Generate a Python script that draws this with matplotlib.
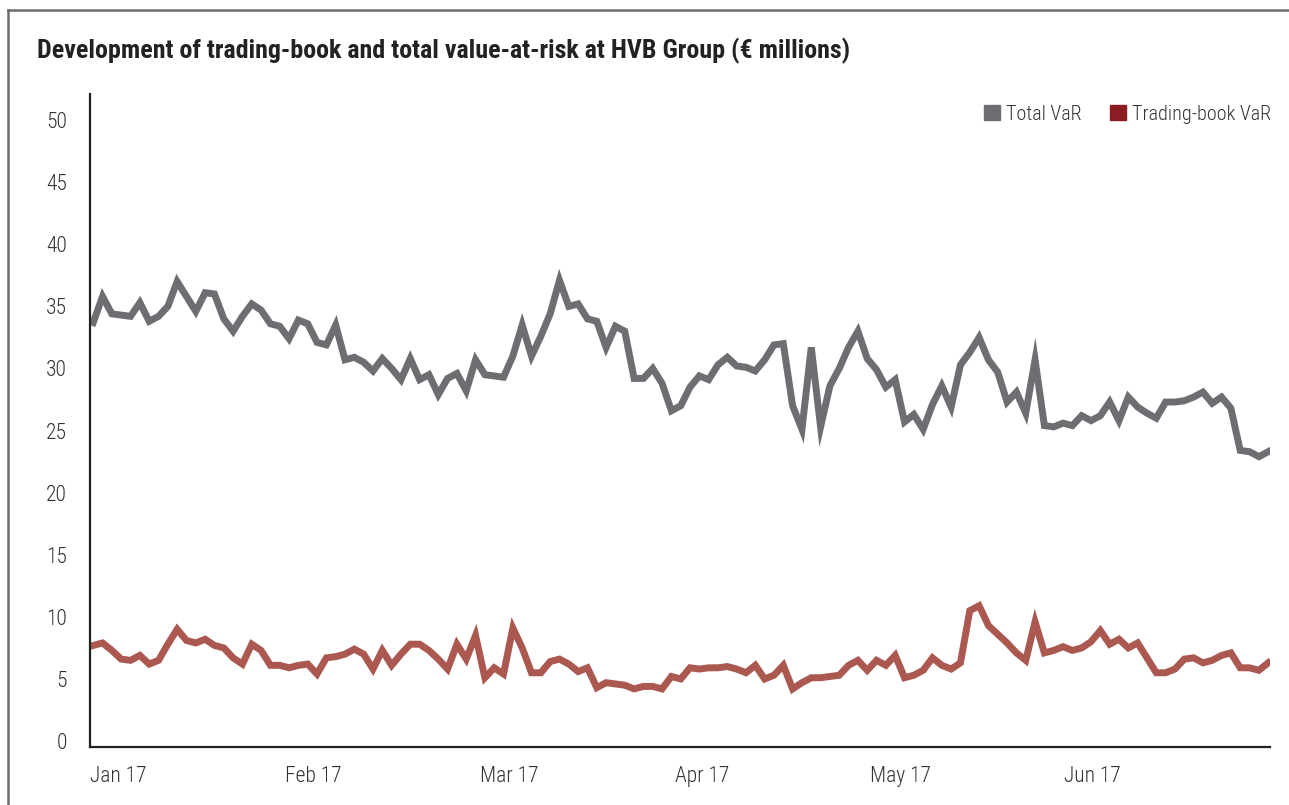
import numpy as np
import matplotlib.pyplot as plt
from matplotlib.patches import Patch
from matplotlib.lines import Line2D

plt.rcParams['font.family'] = ['Roboto Condensed', 'DejaVu Sans']

# daily values, Jan-Jun 2017 (EUR millions)
total_var = [33.7, 35.8, 34.4, 34.3, 34.2, 35.3, 33.8, 34.2, 35.0, 37.0,
             35.8, 34.6, 36.1, 36.0, 34.0, 33.0, 34.2, 35.2, 34.7, 33.6,
             33.4, 32.4, 33.9, 33.6, 32.1, 31.9, 33.5, 30.7, 30.9, 30.5,
             29.8, 30.8, 30.0, 29.1, 30.8, 29.1, 29.5, 27.9, 29.2, 29.6,
             28.2, 30.7, 29.5, 29.4, 29.3, 31.0, 33.5, 31.0, 32.6, 34.4,
             37.1, 35.0, 35.2, 34.0, 33.8, 31.7, 33.4, 33.0, 29.2, 29.2,
             30.0, 28.8, 26.6, 27.0, 28.5, 29.4, 29.1, 30.3, 30.9, 30.2,
             30.1, 29.8, 30.7, 31.9, 32.0, 27.0, 25.1, 31.7, 25.3, 28.6,
             30.0, 31.7, 33.0, 30.8, 29.9, 28.5, 29.1, 25.7, 26.3, 25.1,
             27.1, 28.6, 26.9, 30.3, 31.3, 32.5, 30.7, 29.7, 27.3, 28.1,
             26.4, 30.7, 25.4, 25.3, 25.6, 25.4, 26.2, 25.8, 26.2, 27.3,
             25.8, 27.7, 26.9, 26.4, 26.0, 27.3, 27.3, 27.4, 27.7, 28.1,
             27.2, 27.7, 26.8, 23.4, 23.3, 22.9, 23.3]

trading_var = [7.7, 7.9, 7.3, 6.6, 6.5, 6.9, 6.2, 6.5, 7.8, 9.0,
               8.1, 7.9, 8.2, 7.7, 7.5, 6.7, 6.2, 7.8, 7.3, 6.1,
               6.1, 5.9, 6.1, 6.2, 5.4, 6.7, 6.8, 7.0, 7.4, 7.0,
               5.8, 7.3, 6.1, 7.0, 7.8, 7.8, 7.3, 6.6, 5.8, 7.8,
               6.6, 8.5, 5.1, 5.9, 5.4, 9.1, 7.5, 5.5, 5.5, 6.4,
               6.6, 6.2, 5.6, 5.9, 4.3, 4.7, 4.6, 4.5, 4.2, 4.4,
               4.4, 4.2, 5.2, 5.0, 5.9, 5.8, 5.9, 5.9, 6.0, 5.8,
               5.5, 6.1, 5.0, 5.3, 6.1, 4.2, 4.7, 5.1, 5.1, 5.2,
               5.3, 6.1, 6.5, 5.7, 6.5, 6.1, 6.9, 5.1, 5.3, 5.7,
               6.7, 6.1, 5.8, 6.3, 10.5, 10.9, 9.3, 8.6, 7.9, 7.1,
               6.5, 9.6, 7.1, 7.3, 7.6, 7.3, 7.5, 8.0, 8.9, 7.8,
               8.2, 7.5, 7.9, 6.7, 5.5, 5.5, 5.8, 6.6, 6.7, 6.3,
               6.5, 6.9, 7.1, 5.9, 5.9, 5.7, 6.3]

month_labels = ['Jan 17', 'Feb 17', 'Mar 17', 'Apr 17', 'May 17', 'Jun 17']
y_ticks = [0, 5, 10, 15, 20, 25, 30, 35, 40, 45, 50]

grey = '#6d6e72'
red_line = '#ab5851'
red_box = '#8c1c24'

fig = plt.figure(figsize=(12.89, 8.05), dpi=100)
ax = fig.add_axes([0.0698, 0.072, 0.9155, 0.8112])

x = np.arange(len(total_var))
ax.plot(x, total_var, color=grey, lw=5, solid_joinstyle='miter')
ax.plot(x, trading_var, color=red_line, lw=5, solid_joinstyle='miter')

ax.set_xlim(-0.18, 126.2)
ax.set_ylim(-0.48, 52.1)

ax.set_yticks(y_ticks)
ax.set_yticklabels([str(v) for v in y_ticks], fontweight='light')
ax.set_xticks(np.arange(len(month_labels)) * 20.9 - 0.35)
ax.set_xticklabels(month_labels, ha='left', fontweight='light')
ax.tick_params(axis='both', length=0, labelsize=15.5, colors='#333333')
ax.tick_params(axis='y', pad=16.5)
ax.tick_params(axis='x', pad=14)

for s in ['top', 'right']:
    ax.spines[s].set_visible(False)
for s in ['left', 'bottom']:
    ax.spines[s].set_linewidth(1.6)
    ax.spines[s].set_color('#222222')

handles = [Patch(color=grey, label='Total VaR'),
           Patch(color=red_box, label='Trading-book VaR')]
leg = fig.legend(handles=handles, loc='upper right', bbox_to_anchor=(1.0005, 0.8925),
                 ncol=2, frameon=False, handlelength=0.8,
                 handleheight=0.8, handletextpad=0.3, columnspacing=1.4,
                 labelcolor='#333333', prop={'size': 14.5, 'weight': 'light'})

fig.text(0.0287, 0.937, 'Development of trading-book and total value-at-risk at HVB Group (€ millions)',
         fontsize=18.7, fontweight='bold', color='#222222', va='center', ha='left')

# outer frame
fig.add_artist(Line2D([0.0062, 0.0062], [0.0, 0.9876], color=grey, lw=1.8))
fig.add_artist(Line2D([0.0062, 1.0], [0.9876, 0.9876], color=grey, lw=1.8))

fig.savefig('out.png', dpi=100)
